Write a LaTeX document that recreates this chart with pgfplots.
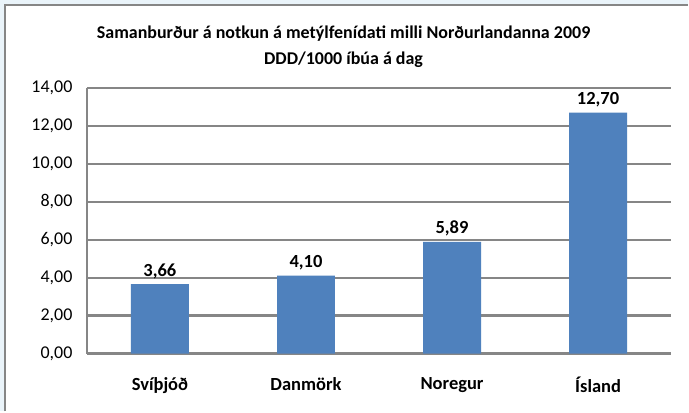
\documentclass[border=0pt]{standalone}
\usepackage{pgfplots}
\pgfplotsset{compat=1.18}
\usepackage{fontspec}
\setmainfont{Carlito}
\definecolor{barblue}{HTML}{4F81BD}
\definecolor{gridgray}{HTML}{868686}
\definecolor{bgblue}{HTML}{EAF4FA}
\begin{document}
\begin{tikzpicture}[x=1pt,y=1pt]
\fill[bgblue] (0,0) rectangle (689,412);
\fill[white] (5,0) rectangle (689,407);
\draw[gridgray, line width=1.8pt] (5,0) -- (5,407) -- (689,407);
\node[align=center, font=\fontsize{18}{26}\selectfont\bfseries] at (344,365)
  {Samanburður á notkun á metýlfenídati milli Norðurlandanna 2009\\DDD/1000 íbúa á dag};
\begin{axis}[
  at={(87pt,58pt)}, anchor=south west,
  scale only axis, width=585pt, height=266pt,
  ymin=0, ymax=14, xmin=-0.5, xmax=3.5,
  ytick={0,2,4,6,8,10,12,14},
  xtick={0,1,2,3},
  xticklabels={Svíþjóð, Danmörk, Noregur, Ísland},
  /pgf/number format/assume math mode=true,
  /pgf/number format/fixed, /pgf/number format/fixed zerofill,
  /pgf/number format/precision=2, /pgf/number format/use comma,
  yticklabel style={font=\fontsize{18}{21}\selectfont, xshift=-11pt},
  xticklabel style={font=\fontsize{18.5}{21}\selectfont\bfseries, yshift=-20pt},
  major tick length=0pt,
  axis lines*=left,
  axis line style={gridgray, line width=2.2pt},
  ymajorgrids,
  major grid style={gridgray, line width=2.2pt},
  ybar, bar width=58pt,
  nodes near coords,
  nodes near coords style={font=\fontsize{18.5}{21}\selectfont\bfseries, yshift=2pt},
  clip=false,
]
\addplot[fill=barblue, draw=none] coordinates {(0,3.66) (1,4.10) (2,5.89) (3,12.70)};
\end{axis}
\end{tikzpicture}
\end{document}
